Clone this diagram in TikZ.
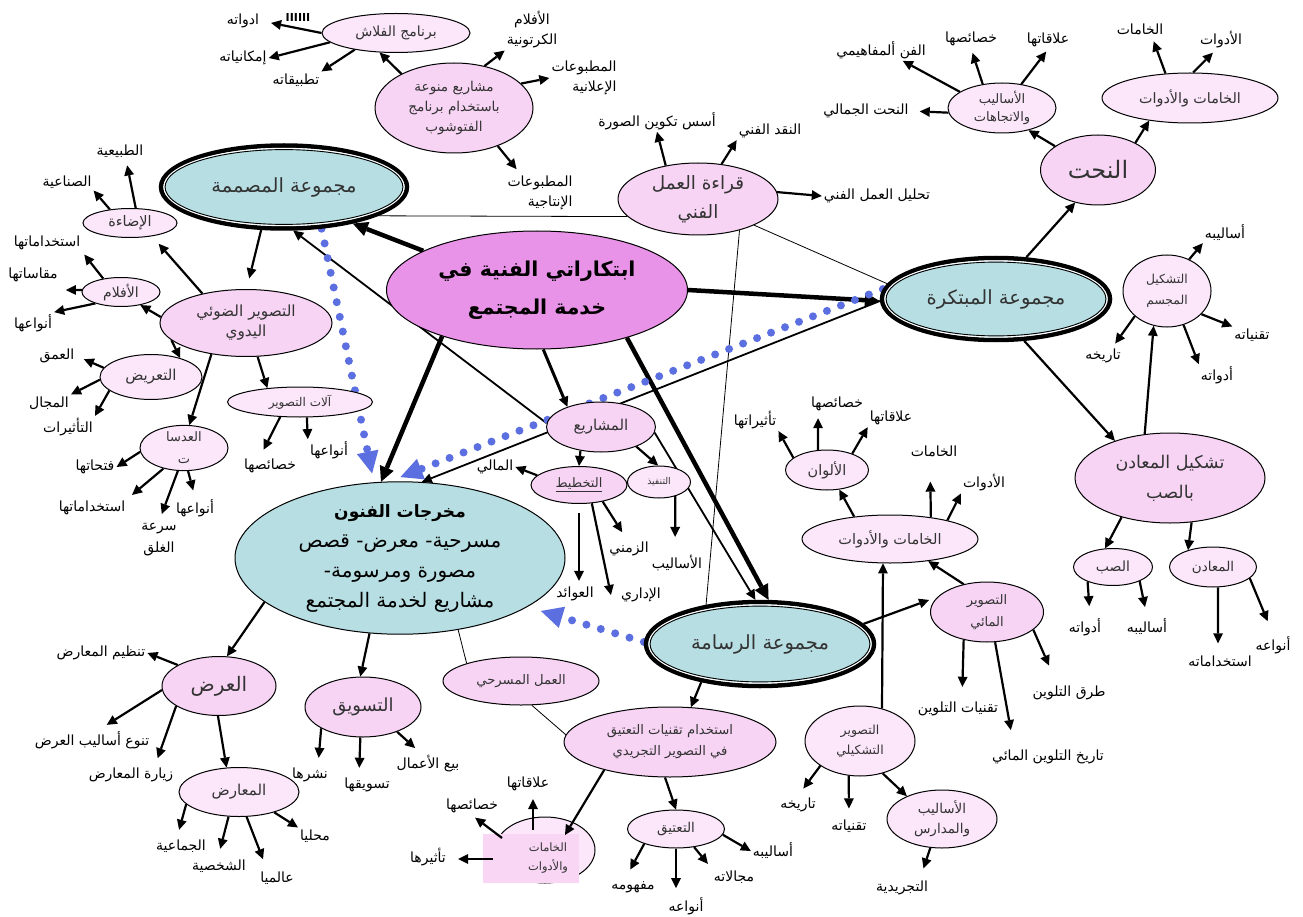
\documentclass[tikz,border=0pt]{standalone}
\usepackage{fontspec}
\setmainfont{DejaVu Sans}[Script=Arabic]
\usetikzlibrary{shapes.geometric,arrows.meta}
\TeXXeTstate=1
\newcommand\ar[1]{\beginR#1\endR}
\newcommand\fsz[2]{\fontsize{#1}{#2}\selectfont}
\definecolor{tealf}{HTML}{B7DEE2}
\definecolor{mainf}{HTML}{E893E8}
\definecolor{pka}{HTML}{F7D4F4}
\definecolor{pkb}{HTML}{FBE6FA}
\definecolor{pkr}{HTML}{F8D6F4}
\definecolor{dotblue}{HTML}{5B6FE0}
\definecolor{txtg}{HTML}{333333}
\pgfdeclarelayer{background}
\pgfsetlayers{background,main}
\tikzset{
  pe/.style 2 args={ellipse, draw=black, line width=1pt, minimum width=#1, minimum height=#2, inner sep=0pt, align=center, text=txtg},
  grp/.style={ellipse, draw=black, line width=4.5pt, fill=tealf, inner sep=0pt, text=txtg, font=\fsz{19.5}{24}},
  lbl/.style={inner sep=2pt, align=center, font=\fsz{14}{17}, text=black},
  arr/.style={draw=black, line width=2.2pt, -{Triangle[length=10pt,width=10pt,line width=0pt]}},
  thk/.style={draw=black, line width=4.5pt, -{Triangle[length=15pt,width=15pt,line width=0pt]}},
  tline/.style={draw=black, line width=0.8pt},
  bdots/.style={draw=dotblue, line width=8pt, line cap=round, dash pattern=on 0pt off 15pt, -{Triangle[length=22pt,width=22pt,line width=0pt]}}
}
\newcommand\grpnode[6]{%
  \node[grp, minimum width=#4pt, minimum height=#5pt] (#1) at (#2,#3) {#6};
  \draw[white, line width=1.2pt] (#1.center) ellipse ({(#4/2-2.9)*1pt} and {(#5/2-2.9)*1pt});
  \draw[black, line width=0.9pt] (#1.center) ellipse ({(#4/2-4.1)*1pt} and {(#5/2-4.1)*1pt});}
\begin{document}
\begin{tikzpicture}[x=1pt,y=-1pt]
\useasboundingbox (0,0) rectangle (1303,917);

% ---------- main nodes ----------
\node[pe={301pt}{118pt}, fill=mainf, text=black, font=\fsz{20.5}{38}\bfseries] (core) at (537,290) {\ar{ابتكاراتي الفنية في}\\\ar{خدمة المجتمع}};
\node[pe={330pt}{150pt}, fill=tealf, text=black, font=\fsz{20}{30}] (outp) at (400,558) {{\fsz{17}{30}\bfseries\ar{مخرجات الفنون}}\\\ar{مسرحية- معرض- قصص}\\\ar{مصورة ومرسومة-}\\\ar{مشاريع لخدمة المجتمع}};
\grpnode{mus}{284}{187}{246}{83}{\ar{مجموعة المصممة}}
\grpnode{mub}{996}{299}{228}{82}{\ar{مجموعة المبتكرة}}
\grpnode{ras}{760}{644}{228}{84}{\ar{مجموعة الرسامة}}

% ---------- ellipses ----------
\node[pe={148pt}{39pt}, fill=pkb, font=\fsz{14}{16}] (flash) at (396,33) {\ar{برنامج الفلاش}};
\node[pe={158pt}{90pt}, fill=pka, font=\fsz{13.6}{20}] (photo) at (454,108) {\ar{مشاريع منوعة}\\\ar{باستخدام برنامج}\\\ar{الفتوشوب}};
\node[pe={160pt}{72pt}, fill=pka, font=\fsz{18.4}{29}] (qiraa) at (698,199) {\ar{قراءة العمل}\\\ar{الفني}};
\node[pe={115pt}{70pt}, fill=pka, font=\fsz{24}{28}] (nahat) at (1098,170) {\ar{النحت}};
\node[pe={108pt}{50pt}, fill=pkb, font=\fsz{13}{18}] (asit) at (1002,108) {\ar{الأساليب}\\\ar{والاتجاهات}};
\node[pe={176pt}{50pt}, fill=pkb, font=\fsz{14.3}{16}] (khtop) at (1190,98) {\ar{الخامات والأدوات}};
\node[pe={88pt}{72pt}, fill=pkb, font=\fsz{12.3}{21}] (tashm) at (1167,291) {\ar{التشكيل}\\\ar{المجسم}};
\node[pe={190pt}{90pt}, fill=pka, font=\fsz{17.5}{30}] (maadin) at (1170,478) {\ar{تشكيل المعادن}\\\ar{بالصب}};
\node[pe={79pt}{37pt}, fill=pkb, font=\fsz{14}{16}] (sabb) at (1113,567) {\ar{الصب}};
\node[pe={87pt}{40pt}, fill=pkb, font=\fsz{13.5}{16}] (madn) at (1213,567) {\ar{المعادن}};
\node[pe={176pt}{48pt}, fill=pkb, font=\fsz{14.5}{16}] (khmid) at (890,539) {\ar{الخامات والأدوات}};
\node[pe={83pt}{40pt}, fill=pkb, font=\fsz{14.4}{16}] (alwan) at (827,470) {\ar{الألوان}};
\node[pe={113pt}{60pt}, fill=pka, font=\fsz{13}{22}] (maai) at (987,612) {\ar{التصوير}\\\ar{المائي}};
\node[pe={110pt}{70pt}, fill=pkb, font=\fsz{12.5}{20}] (tashk) at (860,741) {\ar{التصوير}\\\ar{التشكيلي}};
\node[pe={110pt}{58pt}, fill=pkb, font=\fsz{13.5}{20}] (madaris) at (942,819) {\ar{الأساليب}\\\ar{والمدارس}};
\node[pe={212pt}{70pt}, fill=pka, font=\fsz{13.2}{21}] (itq) at (670,742) {\ar{استخدام تقنيات التعتيق}\\\ar{في التصوير التجريدي}};
\node[pe={97pt}{38pt}, fill=pkb, font=\fsz{13.5}{16}] (taatiq) at (676,829) {\ar{التعتيق}};
\node[pe={100pt}{66pt}, fill=pkb] (khbot) at (545,850) {};
\fill[pkr] (483,834) rectangle (579,883);
\node[align=center, text=txtg, font=\fsz{11.5}{19}, inner sep=0pt] (khbtxt) at (548,858) {\ar{الخامات}\\\ar{والأدوات}};
\node[pe={156pt}{48pt}, fill=pka, font=\fsz{13.2}{16}] (masrahi) at (521,681) {\ar{العمل المسرحي}};
\node[pe={114pt}{59pt}, fill=pka, font=\fsz{20}{24}] (ard) at (219,686) {\ar{العرض}};
\node[pe={116pt}{60pt}, fill=pka, font=\fsz{18}{21}] (taswiq) at (363,707) {\ar{التسويق}};
\node[pe={120pt}{49pt}, fill=pkb, font=\fsz{15}{17}] (maarid) at (239,792) {\ar{المعارض}};
\node[pe={109pt}{50pt}, fill=pka, font=\fsz{15}{17}] (mash) at (601,427) {\ar{المشاريع}};
\node[pe={96pt}{37pt}, fill=pka, font=\fsz{13}{15}] (takh) at (579,485) {\underline{\ar{التخطيط}}};
\node[pe={63pt}{32pt}, fill=pkb, font=\fsz{9.3}{11}] (tanf) at (659,482) {\ar{التنفيذ}};
\node[pe={172pt}{67pt}, fill=pka, font=\fsz{15.3}{20}] (daw) at (246,323) {\ar{التصوير الضوئي}\\\ar{اليدوي}};
\node[pe={94pt}{29pt}, fill=pkb, font=\fsz{14.5}{16}] (idaa) at (130,223) {\ar{الإضاءة}};
\node[pe={78pt}{29pt}, fill=pkb, font=\fsz{14}{16}] (aflam) at (121,292) {\ar{الأفلام}};
\node[pe={102pt}{45pt}, fill=pkb, font=\fsz{15}{17}] (taarid) at (151,377) {\ar{التعريض}};
\node[pe={88pt}{34pt}, fill=pkb, font=\fsz{13}{22}] (adasat) at (184,448) {\ar{العدسا}\\\ar{ت}};
\node[pe={145pt}{30pt}, fill=pkb, font=\fsz{12}{14}] (alat) at (300,402) {\ar{آلات التصوير}};

% ---------- labels ----------
\node[lbl] (adawat1) at (243,21) {\ar{ادواته}};
\node[lbl] (imkan) at (243,58) {\ar{إمكانياته}};
\node[lbl] (tatbiq) at (296,80) {\ar{تطبيقاته}};
\node[lbl, font=\fsz{14}{20}] (kartun) at (532,30) {\ar{الأفلام}\\\ar{الكرتونية}};
\node[lbl, align=right, font=\fsz{14}{20}] (ilania) at (584,78) {\ar{المطبوعات}\\\ar{الإعلانية}};
\node[lbl, align=right, font=\fsz{14}{20}] (intaj) at (540,193) {\ar{المطبوعات}\\\ar{الإنتاجية}};
\node[lbl] (asas) at (657,121) {\ar{أسس تكوين الصورة}};
\node[lbl] (naqd) at (770,131) {\ar{النقد الفني}};
\node[lbl] (tahlil) at (877,196) {\ar{تحليل العمل الفني}};
\node[lbl] (fann) at (881,50) {\ar{الفن ألمفاهيمي}};
\node[lbl] (khas1) at (971,39) {\ar{خصائصها}};
\node[lbl] (alaq1) at (1048,40) {\ar{علاقاتها}};
\node[lbl] (jamali) at (866,111) {\ar{النحت الجمالي}};
\node[lbl] (kham1) at (1140,29) {\ar{الخامات}};
\node[lbl] (adaw1) at (1221,40) {\ar{الأدوات}};
\node[lbl] (asal1) at (1225,233) {\ar{أساليبه}};
\node[lbl] (taqn1) at (1252,335) {\ar{تقنياته}};
\node[lbl] (tar1) at (1103,356) {\ar{تاريخه}};
\node[lbl] (adaw2) at (1217,375) {\ar{أدواته}};
\node[lbl] (adaw3) at (1085,627) {\ar{أدواته}};
\node[lbl] (asal2) at (1147,627) {\ar{أساليبه}};
\node[lbl] (istk1) at (1220,661) {\ar{استخداماته}};
\node[lbl] (anw1) at (1273,645) {\ar{أنواعه}};
\node[lbl] (kham2) at (934,451) {\ar{الخامات}};
\node[lbl] (adaw4) at (984,483) {\ar{الأدوات}};
\node[lbl] (taath1) at (755,420) {\ar{تأثيراتها}};
\node[lbl] (khas2) at (837,404) {\ar{خصائصها}};
\node[lbl] (alaq2) at (891,418) {\ar{علاقاتها}};
\node[lbl] (turuq) at (1069,693) {\ar{طرق التلوين}};
\node[lbl] (taqtal) at (958,709) {\ar{تقنيات التلوين}};
\node[lbl] (tarikh2) at (1048,757) {\ar{تاريخ التلوين المائي}};
\node[lbl] (tar3) at (798,805) {\ar{تاريخه}};
\node[lbl] (taqn2) at (849,826) {\ar{تقنياته}};
\node[lbl] (tajrid) at (902,888) {\ar{التجريدية}};
\node[lbl] (asal3) at (773,851) {\ar{أساليبه}};
\node[lbl] (majal) at (734,877) {\ar{مجالاته}};
\node[lbl] (anw2) at (686,906) {\ar{أنواعه}};
\node[lbl] (mafh) at (633,887) {\ar{مفهومه}};
\node[lbl] (alaq3) at (528,784) {\ar{علاقاتها}};
\node[lbl] (khas3) at (472,806) {\ar{خصائصها}};
\node[lbl] (taath2) at (428,857) {\ar{تأثيرها}};
\node[lbl] (tanzim) at (101,653) {\ar{تنظيم المعارض}};
\node[lbl] (tanawu) at (92,740) {\ar{تنوع أساليب العرض}};
\node[lbl] (ziyara) at (131,775) {\ar{زيارة المعارض}};
\node[lbl] (jamaa) at (181,846) {\ar{الجماعية}};
\node[lbl] (shakh) at (219,866) {\ar{الشخصية}};
\node[lbl] (alami) at (277,878) {\ar{عالميا}};
\node[lbl] (mahali) at (315,836) {\ar{محليا}};
\node[lbl] (nashr) at (310,775) {\ar{نشرها}};
\node[lbl] (taswq) at (367,785) {\ar{تسويقها}};
\node[lbl] (bay) at (428,764) {\ar{بيع الأعمال}};
\node[lbl] (mali) at (495,467) {\ar{المالي}};
\node[lbl] (zamani) at (629,549) {\ar{الزمني}};
\node[lbl] (awaid) at (575,594) {\ar{العوائد}};
\node[lbl] (idari) at (641,595) {\ar{الإداري}};
\node[lbl] (asalib4) at (677,563) {\ar{الأساليب}};
\node[lbl] (tabii) at (120,151) {\ar{الطبيعية}};
\node[lbl] (sinai) at (67,182) {\ar{الصناعية}};
\node[lbl] (istk2) at (47,243) {\ar{استخداماتها}};
\node[lbl] (maqas) at (33,275) {\ar{مقاساتها}};
\node[lbl] (anw3) at (33,323) {\ar{أنواعها}};
\node[lbl] (umq) at (57,356) {\ar{العمق}};
\node[lbl] (majal2) at (49,403) {\ar{المجال}};
\node[lbl] (taath3) at (68,427) {\ar{التأثيرات}};
\node[lbl] (fath) at (95,467) {\ar{فتحاتها}};
\node[lbl] (istk3) at (92,508) {\ar{استخداماتها}};
\node[lbl, font=\fsz{14}{22}] (sura) at (159,540) {\ar{سرعة}\\\ar{الغلق}};
\node[lbl] (anw4) at (195,508) {\ar{أنواعها}};
\node[lbl] (khas4) at (270,466) {\ar{خصائصها}};
\node[lbl] (anw5) at (329,450) {\ar{أنواعها}};

% ---------- connectors ----------
\begin{pgfonlayer}{background}
\fill[white] (0,0) rectangle (1303,917);
% flash
\draw[arr, shorten >=10pt] (flash.180) -- (adawat1.east);
\draw[arr] (flash.188) -- (imkan.east);
\draw[arr] (flash.202) -- (tatbiq.north east);
\draw[arr] (photo.147) -- (flash.230);
% photoshop
\draw[arr] (photo.54) -- (kartun.south west);
\draw[arr] (photo.20) -- (ilania.west);
\draw[arr, shorten >=6pt] (photo.-41) -- ([xshift=15pt]intaj.north west);
% reading
\draw[arr] (qiraa.134) -- (asas.south);
\draw[arr] (qiraa.56) -- (naqd.south west);
\draw[arr] (qiraa.5) -- (tahlil.west);
\draw[tline] (mus.-17) -- (qiraa.194);
\draw[tline] (qiraa.-25) -- (mub.172);
\draw[tline] (qiraa.-37) -- (ras.144);
% core
\draw[thk] (core.161) -- (mus.-28);
\draw[thk] (core.0) -- (mub.181);
\draw[thk] (core.206) -- (outp.104);
\draw[arr, line width=3pt] (core.-84) -- (mash.149);
\draw[thk] (core.-28) -- (ras.79);
% projects
\draw[arr, line width=1.8pt] (mash.176) -- (mus.-78);
\draw[arr, line width=1.8pt] (mash.-6) -- (ras.96);
\draw[arr] (mash.-131) -- (takh.90);
\draw[arr] (mash.-29) -- (tanf.93);
\draw[arr, line width=1.8pt] (mub.181) -- (outp.74);
% designer group
\draw[arr, shorten >=11pt] (mus.242) -- (daw.89);
\draw[arr, shorten >=10pt] (daw.146) -- (idaa.-31);
\draw[arr] (daw.176) -- (aflam.-34);
\draw[arr] (daw.193) -- (taarid.33);
\draw[arr] (daw.222) -- (adasat.77);
\draw[arr] (daw.-71) -- (alat.157);
\draw[arr, shorten >=6pt] (idaa.69) -- ([xshift=6pt]tabii.south);
\draw[arr] (idaa.146) -- (sinai.south east);
\draw[arr, shorten >=3pt] (aflam.143) -- (istk2.south east);
\draw[arr, shorten >=6pt] (aflam.177) -- ([yshift=-15pt]maqas.east);
\draw[arr] (aflam.204) -- (anw3.north east);
\draw[arr, shorten >=8pt] (taarid.169) -- (umq.east);
\draw[arr] (taarid.183) -- (majal2.north east);
\draw[arr] (taarid.198) -- (taath3.north east);
\draw[arr] (adasat.185) -- (fath.east);
\draw[arr, shorten >=6pt] (adasat.225) -- (istk3.north east);
\draw[arr, shorten >=8pt] (adasat.255) -- (sura.north);
\draw[arr, shorten >=7pt] (adasat.-80) -- (anw4.north);
\draw[arr, shorten >=8pt] (alat.217) -- ([xshift=-10pt]khas4.north);
\draw[arr] (alat.-66) -- (anw5.north west);
% innovator group
\draw[arr] (mub.54) -- (nahat.235);
\draw[arr] (nahat.151) -- (asit.-40);
\draw[arr] (nahat.36) -- (khtop.209);
\draw[arr] (asit.159) -- ([xshift=-25pt]fann.south east);
\draw[arr, shorten >=5pt] (asit.129) -- (khas1.south);
\draw[arr, shorten >=3pt] (asit.51) -- (alaq1.south);
\draw[arr, shorten >=9pt] (asit.185) -- (jamali.east);
\draw[arr, shorten >=5pt] (khtop.135) -- ([xshift=12pt]kham1.south);
\draw[arr, shorten >=3pt] (khtop.83) -- ([xshift=-6pt]adaw1.south);
\draw[arr] (mub.-56) -- (maadin.146);
\draw[arr] (maadin.120) -- (tashm.249);
\draw[arr] (tashm.55) -- (asal1.south west);
\draw[arr] (tashm.-34) -- (taqn1.north west);
\draw[arr, shorten >=4pt] (tashm.218) -- ([xshift=-10pt]tar1.north east);
\draw[arr] (tashm.-64) -- (adaw2.north west);
\draw[arr] (maadin.219) -- (sabb.113);
\draw[arr] (maadin.-64) -- (madn.146);
\draw[arr, shorten >=10pt] (sabb.210) -- ([xshift=5pt]adaw3.north);
\draw[arr, shorten >=10pt] (sabb.-28) -- (asal2.north);
\draw[arr, shorten >=10pt] (madn.-76) -- ([xshift=-2pt]istk1.north);
\draw[arr, shorten >=14pt] (madn.-17) -- (anw1.north);
% painter group
\draw[arr, shorten >=9pt] (ras.11) -- (maai.163);
\draw[arr] (ras.213) -- (itq.59);
\draw[arr] (maai.130) -- (khmid.-30);
\draw[arr, shorten >=13pt] (maai.230) -- ([xshift=4pt]taqtal.north);
\draw[arr, shorten >=18pt] (maai.-75) -- ([xshift=-34pt]tarikh2.north);
\draw[arr, shorten >=20pt] (maai.-21) -- ([xshift=-12pt]turuq.north);
\draw[arr] (tashk.56) -- (khmid.254);
\draw[arr] (tashk.-55) -- (madaris.147);
\draw[arr, shorten >=9pt] (tashk.212) -- (tar3.north);
\draw[arr, shorten >=9pt] (tashk.252) -- (taqn2.north);
\draw[arr, shorten >=11pt] (madaris.248) -- ([xshift=18pt]tajrid.north);
\draw[arr] (khmid.148) -- (alwan.-58);
\draw[arr, shorten >=23pt] (khmid.28) -- ([xshift=-4pt]kham2.south);
\draw[arr] (khmid.18) -- (adaw4.south west);
\draw[arr] (alwan.160) -- (taath1.south east);
\draw[arr, shorten >=5pt] (alwan.114) -- ([xshift=-19pt]khas2.south);
\draw[arr] (alwan.33) -- (alaq2.south west);
\draw[arr] (itq.262) -- (taatiq.90);
\draw[tline] (outp.-51) -- (masrahi.162);
\draw[tline] (masrahi.-66) -- (itq.176);
\draw[arr] (taatiq.-7) -- (asal3.west);
\draw[arr, shorten >=6pt] (taatiq.-45) -- (majal.north west);
\draw[arr, shorten >=7pt] (taatiq.-90) -- ([xshift=-10pt]anw2.north);
\draw[arr, shorten >=11pt] (taatiq.205) -- ([xshift=-8pt]mafh.north);
% outputs
\draw[arr] (outp.198) -- (ard.75);
\draw[arr] (outp.248) -- (taswiq.95);
\draw[arr] (ard.153) -- (tanzim.east);
\draw[arr, shorten >=8pt] (ard.184) -- ([xshift=8pt]tanawu.north);
\draw[arr, shorten >=8pt] (ard.205) -- ([xshift=24pt]ziyara.north);
\draw[arr] (ard.-92) -- (maarid.117);
\draw[arr, shorten >=8pt] (maarid.193) -- ([xshift=-4pt]jamaa.north);
\draw[arr, shorten >=9pt] (maarid.247) -- ([xshift=-1pt]shakh.north);
\draw[arr, shorten >=11pt] (maarid.-73) -- ([xshift=-10pt]alami.north);
\draw[arr] (maarid.-30) -- (mahali.north west);
\draw[arr, shorten >=8pt] (taswiq.207) -- ([xshift=8pt]nashr.north);
\draw[arr, shorten >=8pt] (taswiq.265) -- ([xshift=-8pt]taswq.north);
\draw[arr, shorten >=8pt] (taswiq.-36) -- ([xshift=-7pt]bay.north);
% planning
\draw[arr] (takh.167) -- (mali.east);
\draw[arr, shorten <=9pt, shorten >=4pt] (takh.-90) -- ([xshift=4pt]awaid.north);
\draw[arr] (takh.-55) -- ([xshift=-8pt]idari.west);
\draw[arr, shorten >=9pt] (takh.-35) -- ([xshift=-2pt]zamani.north);
\draw[arr, shorten >=16pt] (tanf.-41) -- ([xshift=-2pt]asalib4.north);
% blue dotted
\draw[bdots, shorten >=9pt] (mus.-48) -- (outp.109);
\draw[bdots, shorten >=12pt] (mub.175) -- (outp.98);
\draw[bdots, shorten >=14pt] (ras.179) -- (outp.-21);
\end{pgfonlayer}

% arrows over the pink box
\draw[arr] (itq.203) -- ([xshift=20pt,yshift=15pt]khbot.center);
\draw[arr, shorten >=6pt] ([xshift=-12pt,yshift=20pt]khbot.center) -- ([xshift=5pt]alaq3.south);
\draw[arr, shorten >=4pt] ([xshift=-43pt,yshift=12pt]khbot.center) -- (khas3.south);
\draw[arr, shorten >=10pt] ([xshift=-52pt,yshift=-9pt]khbot.center) -- ([yshift=-2pt]taath2.east);
\node[font=\fsz{11}{12}\bfseries, inner sep=0pt] (bars) at (298,17) {IIIIII};
\end{tikzpicture}
\end{document}
